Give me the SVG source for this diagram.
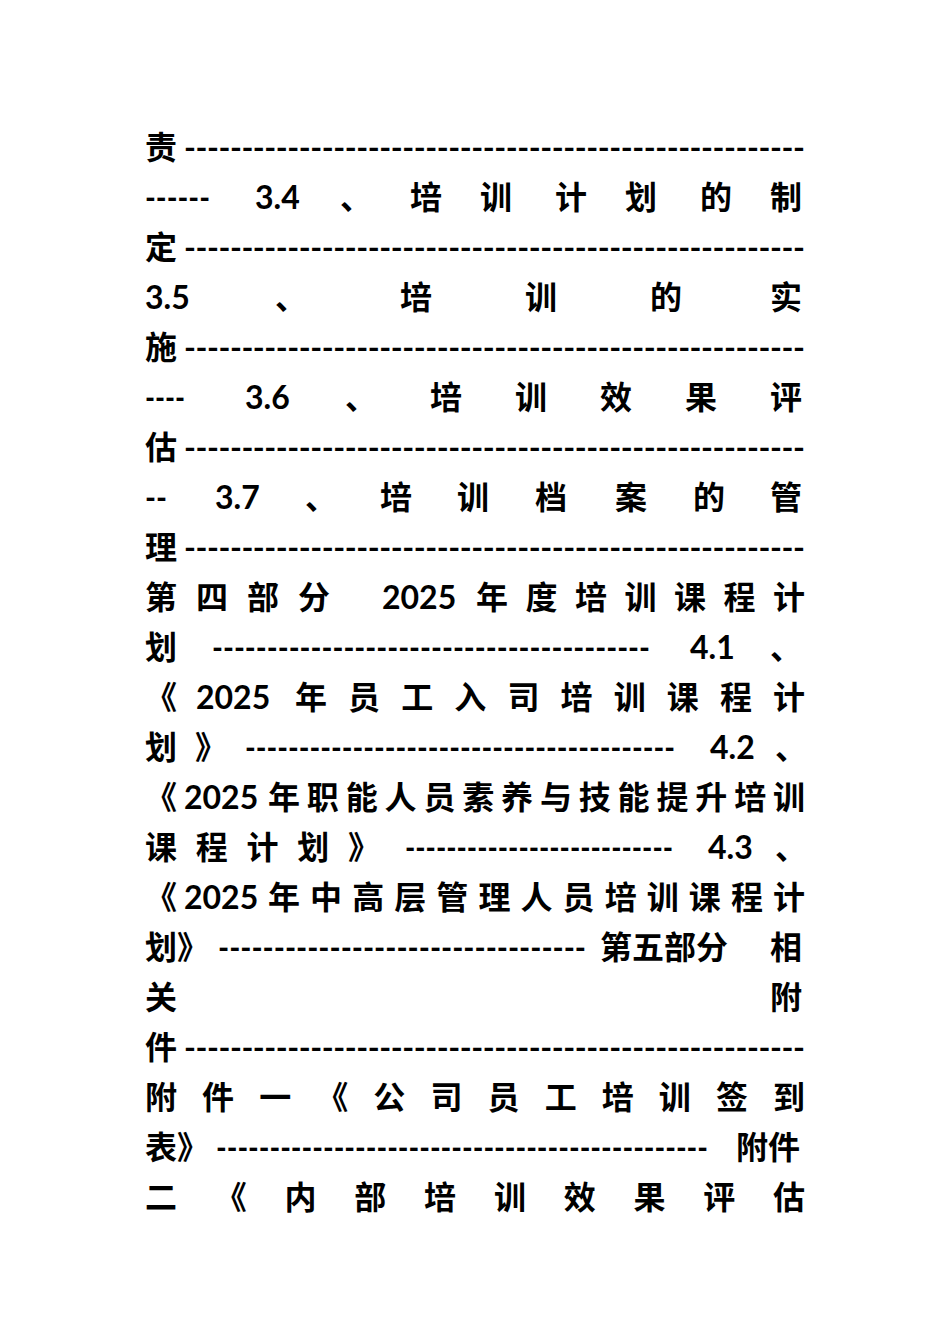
<svg xmlns="http://www.w3.org/2000/svg" width="950" height="1344" viewBox="0 0 950 1344">
<style>text{font-family:"Lato","Noto Sans CJK SC",sans-serif;font-size:32px;font-weight:bold;fill:#000}</style>
<rect width="950" height="1344" fill="#fff"/>
<g id="toc">
<text x="145" y="159" textLength="660" lengthAdjust="spacing">责 ------------------------------------------------------</text>
<text x="145" y="209" textLength="65" lengthAdjust="spacingAndGlyphs">------</text><text x="255" y="209">3.4</text><text x="340" y="209">、</text><text x="410" y="209">培</text><text x="480" y="209">训</text><text x="555" y="209">计</text><text x="625" y="209">划</text><text x="700" y="209">的</text><text x="770" y="209">制</text>
<text x="145" y="259" textLength="660" lengthAdjust="spacing">定 ------------------------------------------------------</text>
<text x="145" y="309">3.5</text><text x="275" y="309">、</text><text x="400" y="309">培</text><text x="525" y="309">训</text><text x="650" y="309">的</text><text x="770" y="309">实</text>
<text x="145" y="359" textLength="660" lengthAdjust="spacing">施 ------------------------------------------------------</text>
<text x="145" y="409" textLength="40" lengthAdjust="spacingAndGlyphs">----</text><text x="245" y="409">3.6</text><text x="345" y="409">、</text><text x="430" y="409">培</text><text x="515" y="409">训</text><text x="600" y="409">效</text><text x="685" y="409">果</text><text x="770" y="409">评</text>
<text x="145" y="459" textLength="660" lengthAdjust="spacing">估 ------------------------------------------------------</text>
<text x="145" y="509" textLength="22" lengthAdjust="spacingAndGlyphs">--</text><text x="215" y="509">3.7</text><text x="305" y="509">、</text><text x="380" y="509">培</text><text x="457" y="509">训</text><text x="535" y="509">档</text><text x="615" y="509">案</text><text x="693" y="509">的</text><text x="770" y="509">管</text>
<text x="145" y="559" textLength="660" lengthAdjust="spacing">理 ------------------------------------------------------</text>
<text x="145" y="609" textLength="185" lengthAdjust="spacing">第四部分</text><text x="382" y="609">2025</text><text x="476" y="609" textLength="329" lengthAdjust="spacing">年度培训课程计</text>
<text x="145" y="659">划</text><text x="212" y="659" textLength="438" lengthAdjust="spacingAndGlyphs">----------------------------------------</text><text x="690" y="659">4.1</text><text x="770" y="659">、</text>
<text x="145" y="709">《</text><text x="196" y="709">2025</text><text x="295" y="709" textLength="510" lengthAdjust="spacing">年员工入司培训课程计</text>
<text x="145" y="759">划</text><text x="195" y="759">》</text><text x="245" y="759" textLength="430" lengthAdjust="spacingAndGlyphs">----------------------------------------</text><text x="710" y="759">4.2</text><text x="775" y="759">、</text>
<text x="145" y="809">《</text><text x="184" y="809">2025</text><text x="268" y="809" textLength="537" lengthAdjust="spacing">年职能人员素养与技能提升培训</text>
<text x="145" y="859" textLength="235" lengthAdjust="spacing">课程计划》</text><text x="405" y="859" textLength="268" lengthAdjust="spacingAndGlyphs">--------------------------</text><text x="708" y="859">4.3</text><text x="775" y="859">、</text>
<text x="145" y="909">《</text><text x="184" y="909">2025</text><text x="268" y="909" textLength="537" lengthAdjust="spacing">年中高层管理人员培训课程计</text>
<text x="145" y="959">划》</text><text x="218" y="959" textLength="368" lengthAdjust="spacingAndGlyphs">---------------------------------</text><text x="600" y="959">第五部分</text><text x="770" y="959">相</text>
<text x="145" y="1009">关</text><text x="770" y="1009">附</text>
<text x="145" y="1059" textLength="660" lengthAdjust="spacing">件 ------------------------------------------------------</text>
<text x="145" y="1109" textLength="660" lengthAdjust="spacing">附件一《公司员工培训签到</text>
<text x="145" y="1159">表》</text><text x="216" y="1159" textLength="492" lengthAdjust="spacingAndGlyphs">----------------------------------------------</text><text x="736" y="1159">附件</text>
<text x="145" y="1209" textLength="660" lengthAdjust="spacing">二《内部培训效果评估</text>
</g>
</svg>
